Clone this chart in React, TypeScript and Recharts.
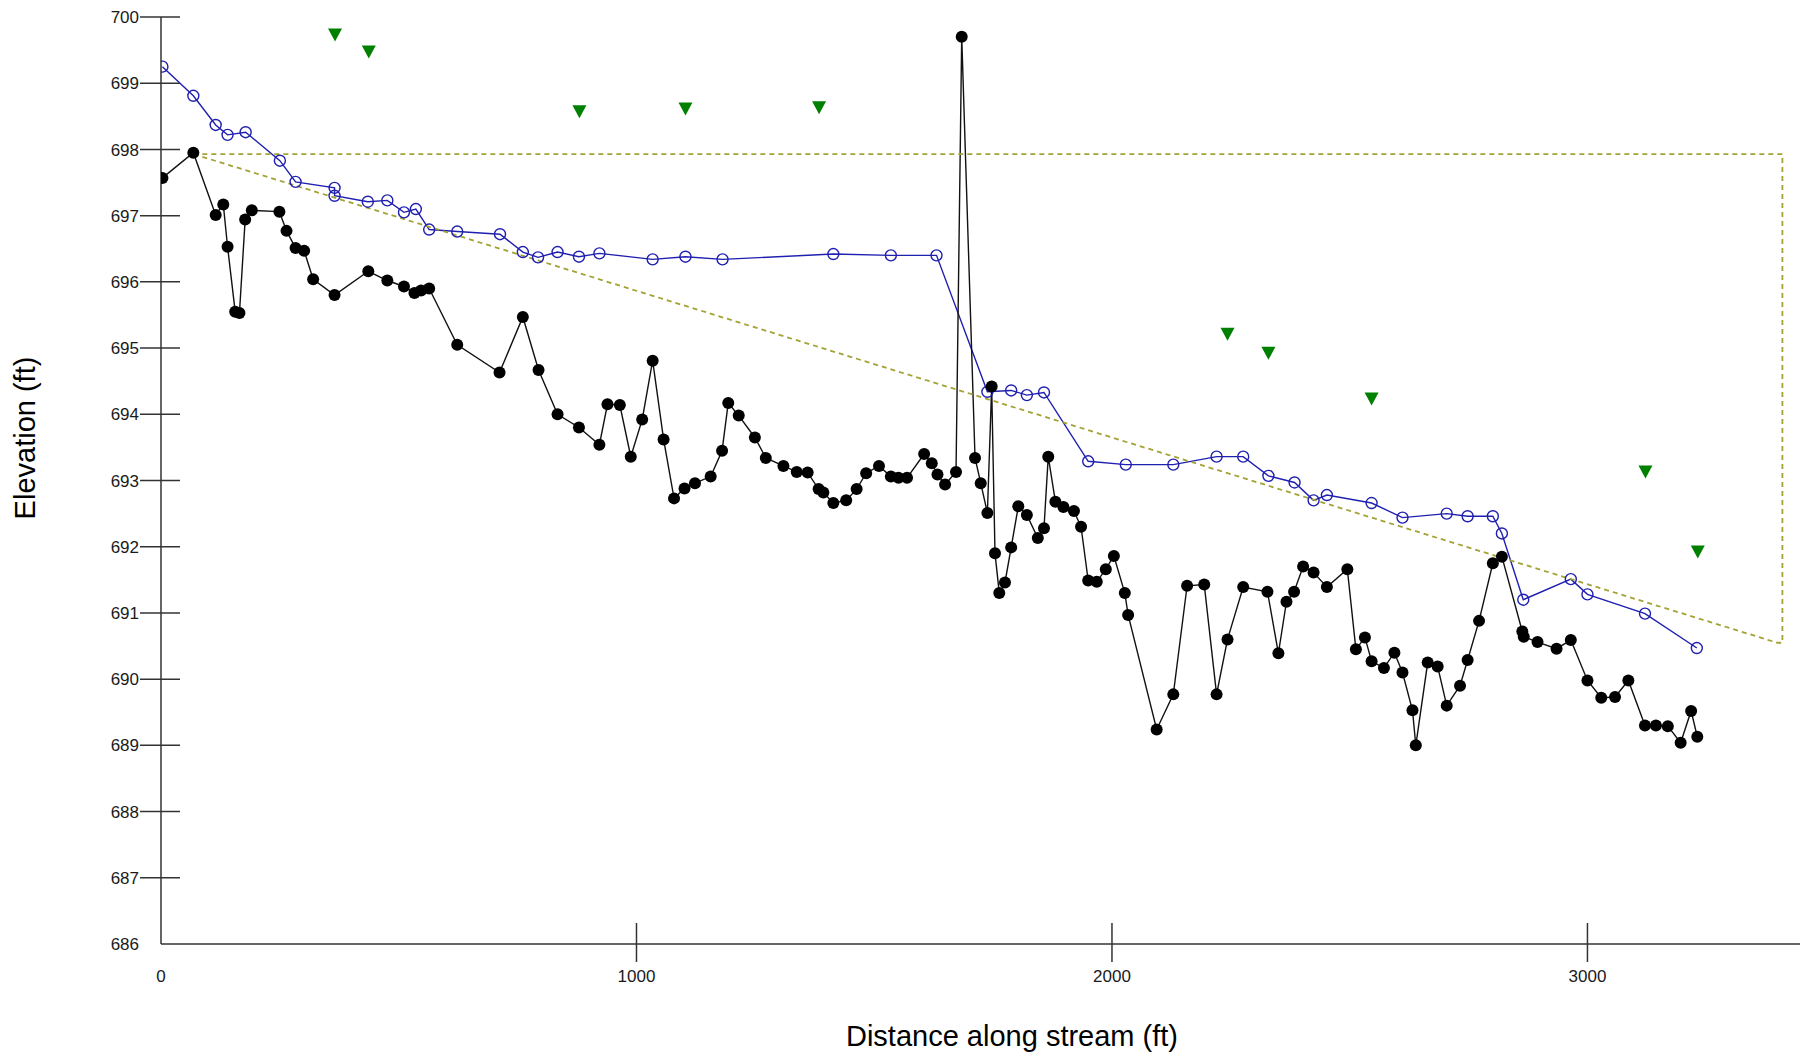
import { ComposedChart, Line, XAxis, YAxis, Label } from "recharts";

// water surface profile (open blue circles)
const wsStation = [3, 68, 115, 140, 178, 250, 283, 365, 365, 435, 476, 511, 536, 564, 623, 713, 761, 793, 834, 879, 922, 1034, 1103, 1181, 1414, 1535, 1631, 1738, 1788, 1821, 1857, 1950, 2029, 2129, 2220, 2276, 2329, 2384, 2424, 2452, 2546, 2611, 2704, 2748, 2801, 2820, 2865, 2965, 3000, 3121, 3230];
const wsElev = [699.25, 698.81, 698.37, 698.22, 698.26, 697.83, 697.51, 697.42, 697.3, 697.21, 697.23, 697.05, 697.1, 696.79, 696.76, 696.72, 696.45, 696.37, 696.45, 696.38, 696.43, 696.34, 696.38, 696.34, 696.42, 696.4, 696.4, 694.34, 694.36, 694.29, 694.33, 693.29, 693.24, 693.24, 693.36, 693.36, 693.07, 692.97, 692.7, 692.78, 692.66, 692.44, 692.5, 692.46, 692.46, 692.2, 691.2, 691.51, 691.28, 690.99, 690.47];

// thalweg / bed profile (black dots)
const bedStation = [3, 68, 115, 131, 140, 156, 165, 177, 191, 249, 264, 283, 301, 320, 365, 436, 476, 511, 533, 547, 564, 623, 712, 761, 794, 834, 879, 922, 939, 965, 988, 1012, 1034, 1057, 1079, 1101, 1123, 1156, 1180, 1193, 1215, 1249, 1272, 1309, 1337, 1360, 1383, 1393, 1414, 1441, 1463, 1483, 1510, 1535, 1551, 1569, 1605, 1621, 1633, 1649, 1672, 1684, 1712, 1724, 1738, 1747, 1754, 1763, 1775, 1788, 1803, 1821, 1844, 1857, 1866, 1881, 1898, 1920, 1935, 1950, 1968, 1987, 2004, 2027, 2034, 2094, 2129, 2158, 2194, 2220, 2243, 2276, 2327, 2350, 2367, 2383, 2402, 2424, 2452, 2495, 2513, 2532, 2546, 2572, 2594, 2611, 2632, 2639, 2664, 2685, 2704, 2732, 2748, 2772, 2801, 2820, 2863, 2866, 2895, 2935, 2965, 3000, 3029, 3058, 3086, 3121, 3144, 3169, 3196, 3218, 3231];
const bedElev = [697.57, 697.95, 697.01, 697.17, 696.53, 695.55, 695.53, 696.94, 697.08, 697.06, 696.77, 696.51, 696.47, 696.04, 695.8, 696.16, 696.02, 695.93, 695.83, 695.87, 695.9, 695.05, 694.63, 695.47, 694.67, 694.0, 693.8, 693.54, 694.15, 694.14, 693.36, 693.92, 694.81, 693.62, 692.73, 692.88, 692.96, 693.06, 693.45, 694.17, 693.98, 693.65, 693.34, 693.22, 693.13, 693.12, 692.87, 692.82, 692.66, 692.7, 692.87, 693.11, 693.22, 693.06, 693.04, 693.04, 693.4, 693.26, 693.09, 692.94, 693.13, 699.7, 693.34, 692.96, 692.51, 694.42, 691.9, 691.3, 691.46, 691.99, 692.61, 692.48, 692.13, 692.28, 693.36, 692.68, 692.6, 692.54, 692.3, 691.49, 691.47, 691.66, 691.86, 691.3, 690.97, 689.24, 689.77, 691.41, 691.43, 689.77, 690.6, 691.39, 691.32, 690.39, 691.17, 691.32, 691.7, 691.61, 691.39, 691.66, 690.45, 690.63, 690.27, 690.17, 690.4, 690.1, 689.53, 689.0, 690.25, 690.19, 689.6, 689.9, 690.29, 690.88, 691.75, 691.85, 690.72, 690.64, 690.56, 690.46, 690.59, 689.98, 689.72, 689.73, 689.98, 689.3, 689.3, 689.29, 689.04, 689.52, 689.13];

// observed water levels (green triangles)
const obsStation = [366, 437, 880, 1103, 1384, 2243, 2329, 2546, 3122, 3232];
const obsElev = [699.73, 699.47, 698.57, 698.61, 698.63, 695.21, 694.92, 694.23, 693.13, 691.92];

// dashed envelope
const envStation = [68, 3410, 3410, 3399, 68];
const envElev = [697.93, 697.93, 690.55, 690.55, 697.93];

const xTicks = [0, 1000, 2000, 3000];
const yTicks = [686, 687, 688, 689, 690, 691, 692, 693, 694, 695, 696, 697, 698, 699, 700];

const toPoints = (xs: number[], ys: number[]) => xs.map((x, i) => ({ x, y: ys[i] }));
const wsData = toPoints(wsStation, wsElev);
const bedData = toPoints(bedStation, bedElev);
const obsData = toPoints(obsStation, obsElev);
const envData = toPoints(envStation, envElev);

const FONT = '"Liberation Sans", Arial, sans-serif';
const AXIS = "#333";

function YTick(props: any) {
  const { x, y, payload } = props;
  return (
    <g>
      {payload.value !== 686 && (
        <line x1={x - 21} x2={x + 19} y1={y} y2={y} stroke={AXIS} strokeWidth={1.5} />
      )}
      <text x={x - 22} y={y} dy="0.36em" textAnchor="end" fontSize={17} fontFamily={FONT} fill="#1a1a1a">
        {payload.value}
      </text>
    </g>
  );
}

function XTick(props: any) {
  const { x, y, payload } = props;
  return (
    <g>
      {payload.value !== 0 && (
        <line x1={x} x2={x} y1={y - 21} y2={y + 18} stroke={AXIS} strokeWidth={1.5} />
      )}
      <text x={x} y={y + 38} textAnchor="middle" fontSize={17} fontFamily={FONT} fill="#1a1a1a">
        {payload.value}
      </text>
    </g>
  );
}

const bedDot = (p: any) => <circle key={`b${p.index}`} cx={p.cx} cy={p.cy} r={6} fill="#000" />;
const wsDot = (p: any) => (
  <circle key={`w${p.index}`} cx={p.cx} cy={p.cy} r={5.5} fill="none" stroke="#1f1fb0" strokeWidth={1.4} />
);
const obsDot = (p: any) => (
  <polygon
    key={`o${p.index}`}
    points={`${p.cx - 7},${p.cy - 6.5} ${p.cx + 7},${p.cy - 6.5} ${p.cx},${p.cy + 6.5}`}
    fill="#008000"
  />
);

export default function App() {
  return (
    <div style={{ width: 1800, height: 1054, background: "#fff" }}>
      <style>{`body{margin:0}`}</style>
      <ComposedChart width={1800} height={1054} margin={{ top: 17, right: 0, bottom: 0, left: 0 }}>
        <XAxis
          type="number"
          dataKey="x"
          domain={[0, 3447]}
          ticks={xTicks}
          interval={0}
          height={110}
          tickSize={0}
          tickMargin={0}
          tickLine={false}
          axisLine={{ stroke: AXIS, strokeWidth: 1.5 }}
          tick={XTick}
          allowDataOverflow
        >
          <Label
            content={() => (
              <text x={1012} y={1046} textAnchor="middle" fontSize={29} fontFamily={FONT} fill="#000">
                Distance along stream (ft)
              </text>
            )}
          />
        </XAxis>
        <YAxis
          type="number"
          domain={[686, 700]}
          ticks={yTicks}
          interval={0}
          width={161}
          tickSize={0}
          tickMargin={0}
          tickLine={false}
          axisLine={{ stroke: AXIS, strokeWidth: 1.5 }}
          tick={YTick}
          allowDataOverflow
        >
          <Label
            content={() => (
              <text
                transform="translate(35,438) rotate(-90)"
                textAnchor="middle"
                fontSize={29}
                fontFamily={FONT}
                fill="#000"
              >
                Elevation (ft)
              </text>
            )}
          />
        </YAxis>
        <Line
          data={wsData}
          dataKey="y"
          type="linear"
          stroke="#1f1fb0"
          strokeWidth={1.4}
          dot={wsDot}
          activeDot={false}
          isAnimationActive={false}
        />
        <Line
          data={bedData}
          dataKey="y"
          type="linear"
          stroke="#111"
          strokeWidth={1.4}
          dot={bedDot}
          activeDot={false}
          isAnimationActive={false}
        />
        <Line
          data={envData}
          dataKey="y"
          type="linear"
          stroke="#a3a235"
          strokeWidth={1.8}
          strokeDasharray="5 4"
          dot={false}
          activeDot={false}
          isAnimationActive={false}
        />
        <Line
          data={obsData}
          dataKey="y"
          type="linear"
          stroke="none"
          dot={obsDot}
          activeDot={false}
          isAnimationActive={false}
        />
      </ComposedChart>
    </div>
  );
}
